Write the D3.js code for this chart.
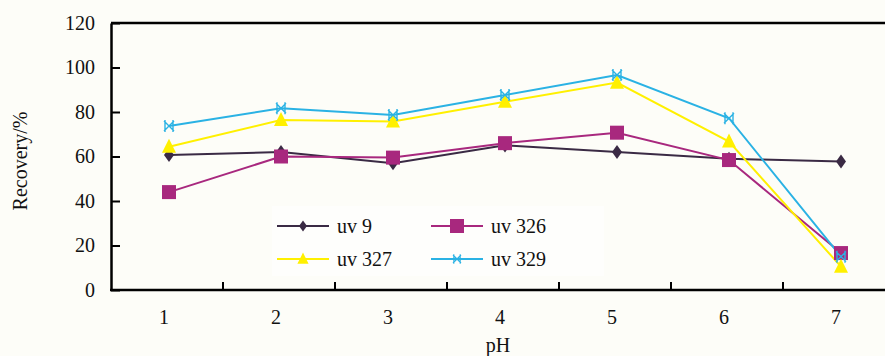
<!DOCTYPE html>
<html>
<head>
<meta charset="utf-8">
<script src="https://cdn.jsdelivr.net/npm/d3@7"></script>
<style>
  body { margin: 0; background: #fdfdf8; }
  svg { display: block; font-family: "Liberation Serif", "Times New Roman", serif; }
</style>
</head>
<body>
<div id="chartArea"></div>
<script>
// data
var phLabels = ["1", "2", "3", "4", "5", "6", "7"]
var yTicks = [0, 20, 40, 60, 80, 100, 120]
var uv9 = [60.7, 62, 57, 65, 62, 59, 57.7]
var uv326 = [44, 60, 59.5, 66, 70.7, 58.4, 16.6]
var uv327 = [64.4, 76.4, 75.7, 84.6, 93.2, 66.7, 10.5]
var uv329 = [73.7, 81.7, 78.7, 87.6, 96.6, 77.2, 15]
var seriesNames = ["uv 9", "uv 326", "uv 327", "uv 329"]

var width = 885, height = 356
var plotLeft = 111, plotRight = 895, plotTop = 23, plotBottom = 290

var svg = d3.select('#chartArea')
  .append('svg')
  .attr('width', width)
  .attr('height', height)

svg.append('rect')
  .attr('width', width).attr('height', height)
  .attr('fill', '#fdfdf8')

var x = d3.scaleBand()
  .domain(phLabels)
  .range([plotLeft, plotRight])
  .paddingInner(0)
  .paddingOuter(0)

var y = d3.scaleLinear()
  .domain([0, 120])
  .range([plotBottom, plotTop])

var series = [
  { name: seriesNames[0], values: uv9, color: '#3a2a44', shape: 'diamond' },
  { name: seriesNames[1], values: uv326, color: '#a8287e', shape: 'square' },
  { name: seriesNames[2], values: uv327, color: '#fff000', shape: 'triangle' },
  { name: seriesNames[3], values: uv329, color: '#2ab2e4', shape: 'star' }
]

// legend background (faint whiter patch)
svg.append('rect')
  .attr('x', 272).attr('y', 206)
  .attr('width', 332).attr('height', 70)
  .attr('fill', '#fefefc')

// frame: top line
svg.append('line')
  .attr('x1', plotLeft).attr('x2', width)
  .attr('y1', plotTop).attr('y2', plotTop)
  .attr('stroke', '#000').attr('stroke-width', 2.5)

// y axis
var yAxis = d3.axisLeft(y)
  .tickValues(yTicks)
  .tickSizeInner(-9)
  .tickSizeOuter(0)
  .tickPadding(16)

var gy = svg.append('g')
  .attr('transform', `translate(${plotLeft},0)`)
  .call(yAxis)
gy.select('.domain').attr('stroke', '#000').attr('stroke-width', 2.5)
gy.selectAll('.tick line').attr('stroke', '#000').attr('stroke-width', 2)
gy.selectAll('.tick text')
  .attr('font-size', 20)
  .attr('fill', '#111')
  .attr('font-family', '"Liberation Serif", serif')

// x axis
var xAxis = d3.axisBottom(x)
  .tickSize(0)
  .tickPadding(20)

var gx = svg.append('g')
  .attr('transform', `translate(0,${plotBottom})`)
  .call(xAxis)
gx.select('.domain').remove()
gx.selectAll('.tick text')
  .attr('font-size', 20)
  .attr('fill', '#111')
  .attr('dx', -3)
  .attr('font-family', '"Liberation Serif", serif')

svg.append('line')
  .attr('x1', plotLeft - 1).attr('x2', width)
  .attr('y1', plotBottom).attr('y2', plotBottom)
  .attr('stroke', '#000').attr('stroke-width', 2.5)

// inner ticks at band boundaries
svg.append('g')
  .selectAll('line')
  .data(phLabels.slice(1))
  .enter()
  .append('line')
  .attr('x1', d => x(d)).attr('x2', d => x(d))
  .attr('y1', plotBottom).attr('y2', plotBottom - 8)
  .attr('stroke', '#000').attr('stroke-width', 2)

// axis titles
svg.append('text')
  .attr('x', 498).attr('y', 352)
  .attr('text-anchor', 'middle')
  .attr('font-size', 20)
  .attr('fill', '#111')
  .text('pH')

svg.append('text')
  .attr('transform', 'translate(27,161) rotate(-90)')
  .attr('text-anchor', 'middle')
  .attr('font-size', 20)
  .attr('fill', '#111')
  .text('Recovery/%')

// marker drawing
function drawMarker(g, shape, color) {
  if (shape === 'diamond') {
    g.append('path')
      .attr('d', 'M0,-7 L5,0 L0,7 L-5,0 Z')
      .attr('fill', color)
  } else if (shape === 'square') {
    g.append('rect')
      .attr('x', -7).attr('y', -7)
      .attr('width', 14).attr('height', 14)
      .attr('fill', color)
  } else if (shape === 'triangle') {
    g.append('path')
      .attr('d', 'M0,-8 L7,6 L-7,6 Z')
      .attr('fill', color)
  } else {
    g.append('path')
      .attr('d', 'M-5,-5 L5,5 M-5,5 L5,-5 M-4,-6 L-4,6 M4,-6 L4,6')
      .attr('stroke', color)
      .attr('stroke-width', 1.4)
      .attr('fill', 'none')
  }
}

var xPos = i => x(phLabels[i]) + x.bandwidth() / 2 + 2

var line = d3.line()
  .x((d, i) => xPos(i))
  .y(d => y(d))

series.forEach(function (s) {
  svg.append('path')
    .datum(s.values)
    .attr('d', line)
    .attr('fill', 'none')
    .attr('stroke', s.color)
    .attr('stroke-width', 2)
})

series.forEach(function (s) {
  s.values.forEach(function (v, i) {
    var g = svg.append('g')
      .attr('transform', `translate(${xPos(i)},${y(v)})`)
    drawMarker(g, s.shape, s.color)
  })
})

// legend
var legendPos = [
  { lx: 277, ty: 226 }, { lx: 431, ty: 226 },
  { lx: 277, ty: 259 }, { lx: 431, ty: 259 }
]

series.forEach(function (s, i) {
  var p = legendPos[i]
  svg.append('line')
    .attr('x1', p.lx).attr('x2', p.lx + 52)
    .attr('y1', p.ty).attr('y2', p.ty)
    .attr('stroke', s.color).attr('stroke-width', 2)
  var sc = s.shape === 'square' ? 1 : 0.8
  var g = svg.append('g').attr('transform', `translate(${p.lx + 26},${p.ty}) scale(${sc})`)
  drawMarker(g, s.shape, s.color)
  svg.append('text')
    .attr('x', p.lx + 60).attr('y', p.ty + 7)
    .attr('font-size', 20)
    .attr('fill', '#111')
    .text(s.name)
})
</script>
</body>
</html>
